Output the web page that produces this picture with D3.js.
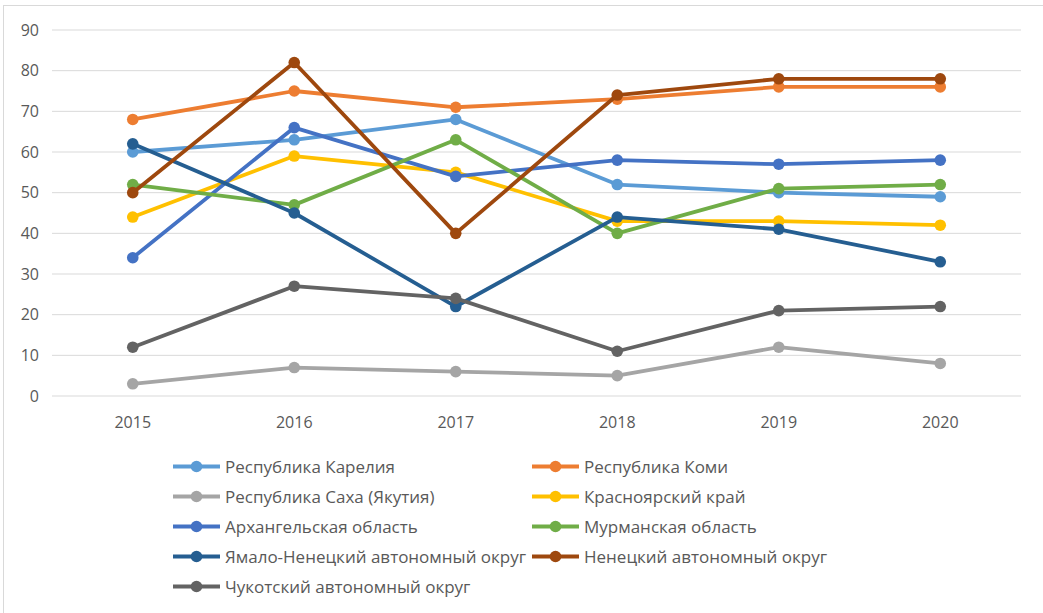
<!DOCTYPE html>
<html><head><meta charset="utf-8">
<script src="https://cdn.jsdelivr.net/npm/d3@7"></script>
<style>body{margin:0;background:#fff}svg{display:block}</style>
</head><body>
<svg id="c" width="1043" height="613"></svg>
<script>
const years = ["2015","2016","2017","2018","2019","2020"];
const yTicks = [0,10,20,30,40,50,60,70,80,90];
const seriesNames = ["Республика Карелия","Республика Коми","Республика Саха (Якутия)","Красноярский край","Архангельская область","Мурманская область","Ямало-Ненецкий автономный округ","Ненецкий автономный округ","Чукотский автономный округ"];
const karelia = [60,63,68,52,50,49];
const komi = [68,75,71,73,76,76];
const sakha = [3,7,6,5,12,8];
const krasnoyarsk = [44,59,55,43,43,42];
const arkhangelsk = [34,66,54,58,57,58];
const murmansk = [52,47,63,40,51,52];
const yamal = [62,45,22,44,41,33];
const nenets = [50,82,40,74,78,78];
const chukotka = [12,27,24,11,21,22];
const colors = ["#5B9BD5","#ED7D31","#A5A5A5","#FFC000","#4472C4","#70AD47","#255E91","#9E480E","#636363"];
const allValues = [karelia,komi,sakha,krasnoyarsk,arkhangelsk,murmansk,yamal,nenets,chukotka];

const svg = d3.select("#c");
const font = "'Open Sans', sans-serif";
svg.append("rect").attr("x",3.5).attr("y",5.5).attr("width",1060).attr("height",620)
  .attr("fill","#fff").attr("stroke","#d9d9d9");

const x = d3.scaleBand().domain(years).range([52,1021]);
const y = d3.scaleLinear().domain([0,90]).range([396,30]);

const g = svg.append("g");
g.selectAll("line.grid").data(yTicks).enter().append("line")
  .attr("x1",52).attr("x2",1021).attr("y1",d=>y(d)).attr("y2",d=>y(d))
  .attr("stroke","#d9d9d9").attr("stroke-width",1);

g.selectAll("text.yl").data(yTicks).enter().append("text")
  .attr("x",39).attr("y",d=>y(d)).attr("dy","0.36em").attr("text-anchor","end")
  .attr("font-family",font).attr("font-size",16).attr("fill","#595959").text(d=>d);

g.selectAll("text.xl").data(years).enter().append("text")
  .attr("x",d=>x(d)+x.bandwidth()/2).attr("y",428).attr("text-anchor","middle")
  .attr("font-family",font).attr("font-size",16).attr("fill","#595959").text(d=>d);

const line = d3.line().x((d,i)=>x(years[i])+x.bandwidth()/2).y(d=>y(d));
allValues.forEach((vals,k)=>{
  const s = g.append("g");
  s.append("path").attr("d",line(vals)).attr("fill","none").attr("stroke",colors[k])
    .attr("stroke-width",3.8).attr("stroke-linejoin","round");
  s.selectAll("circle").data(vals).enter().append("circle")
    .attr("cx",(d,i)=>x(years[i])+x.bandwidth()/2).attr("cy",d=>y(d)).attr("r",5.8)
    .attr("fill",colors[k]);
});

// legend
const lg = svg.append("g");
seriesNames.forEach((n,k)=>{
  const col = k%2, row = Math.floor(k/2);
  const lx = col===0 ? 173 : 532;
  const ly = 466.5 + row*30;
  lg.append("line").attr("x1",lx).attr("x2",lx+47).attr("y1",ly).attr("y2",ly)
    .attr("stroke",colors[k]).attr("stroke-width",3.8);
  lg.append("circle").attr("cx",lx+23.5).attr("cy",ly).attr("r",5.8).attr("fill",colors[k]);
  lg.append("text").attr("x",lx+52).attr("y",ly).attr("dy","0.36em")
    .attr("font-family",font).attr("font-size",17).attr("fill","#595959").text(n);
});
</script>
</body></html>
